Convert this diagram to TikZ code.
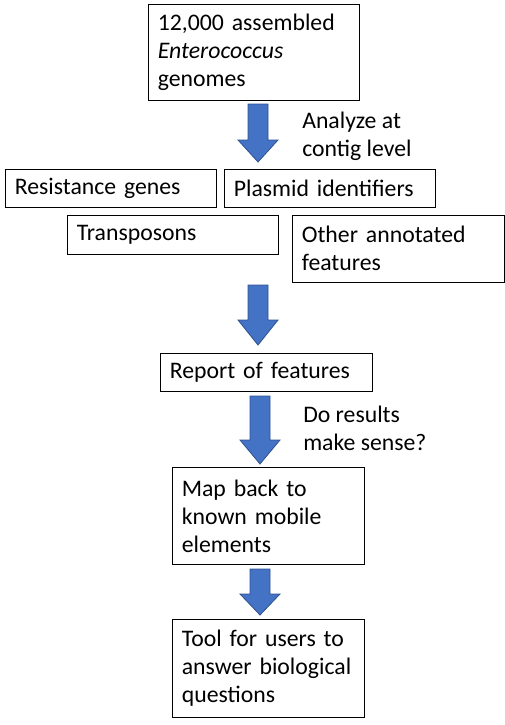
\documentclass[tikz,border=0pt]{standalone}
\usepackage{fontspec}
\setmainfont{Carlito}
\usepackage{tikz}
\definecolor{arrowfill}{HTML}{4472C4}
\definecolor{arrowline}{HTML}{2F528F}

\begin{document}
\begin{tikzpicture}[x=0.75pt,y=-0.75pt]
  \tikzstyle{every node} = [font=\fontsize{17.8}{21}\selectfont];
  \tikzstyle{box} = [draw, black, line width=0.75pt, anchor=north west, align=left, inner xsep=7pt, inner ysep=0pt];
  \tikzstyle{note} = [anchor=north west, align=left, inner sep=0pt];
  \useasboundingbox (0,0) rectangle (505,725);

  % boxes
  \node(genomes) [box, text width=144pt, minimum height=72pt] at (148,4)
    {12,000 assembled\\\textit{Enterococcus}\\genomes};
  \node(resist) [box, text width=144pt, minimum height=28.5pt] at (5,169) {Resistance genes};
  \node(plasmid) [box, text width=144pt, minimum height=28.5pt] at (224,169) {Plasmid identifiers};
  \node(transp) [box, text width=144pt, minimum height=29pt] at (67,215) {Transposons};
  \node(other) [box, text width=145pt, minimum height=50pt] at (292,215) {Other annotated\\features};
  \node(report) [box, text width=145pt, minimum height=28.5pt] at (160,353) {Report of features};
  \node(mapback) [box, text width=130pt, minimum height=72.75pt] at (172,467)
    {Map back to\\known mobile\\elements};
  \node(tool) [box, text width=130pt, minimum height=73.5pt] at (172,619)
    {Tool for users to\\answer biological\\questions};

  % side notes
  \node(analyze) [note] at (302,112) {Analyze at\\contig level};
  \node(sense) [note] at (303,406) {Do results\\make sense?};

  % block arrows
  \foreach \cx/\ya/\yb/\yc in {258/104/140/162, 258/285/320/345, 260/396/440/464, 260/569/594/615}{
    \draw[arrowline, fill=arrowfill, line width=0.6pt]
      (\cx-10,\ya) -- (\cx+10,\ya) -- (\cx+10,\yb) -- (\cx+20,\yb)
      -- (\cx,\yc) -- (\cx-20,\yb) -- (\cx-10,\yb) -- cycle;
  }
\end{tikzpicture}
\end{document}
